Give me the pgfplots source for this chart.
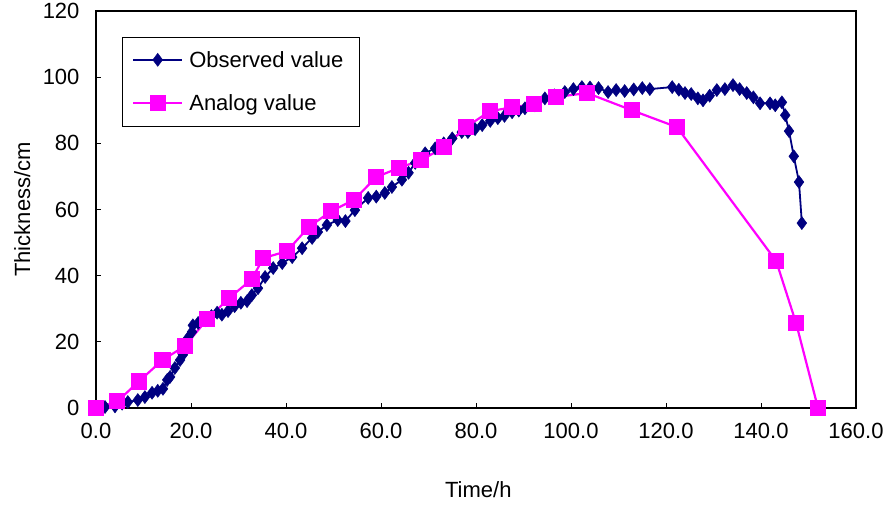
\documentclass[border=0pt]{standalone}
\usepackage{fontspec}
\setmainfont{Liberation Sans}
\usepackage{pgfplots}
\pgfplotsset{compat=1.18}
\definecolor{obsblue}{RGB}{0,0,128}
\definecolor{anapink}{RGB}{255,0,255}

\begin{document}
\begin{tikzpicture}
\useasboundingbox (-96pt,-96pt) rectangle (790pt,408pt);
\begin{axis}[
    scale only axis,
    width=760pt, height=397pt,
    xmin=0, xmax=160, ymin=0, ymax=120,
    xtick={0,20,...,160}, ytick={0,20,...,120},
    xtick pos=bottom, ytick pos=left,
    tick align=inside,
    major tick length=5pt,
    axis line style={line width=1.8pt},
    every tick/.style={black, line width=0.8pt},
    clip=false,
    /pgf/number format/assume math mode=true,
    tick label style={font=\fontsize{22}{26}\selectfont},
    xticklabel style={/pgf/number format/.cd, fixed, fixed zerofill, precision=1, /tikz/.cd, yshift=-12pt},
    yticklabel style={xshift=-13pt},
    xlabel={Time/h},
    ylabel={Thickness/cm},
    label style={font=\fontsize{22}{26}\selectfont},
    xlabel style={at={(axis description cs:0.503,-0.205)}, anchor=center},
    ylabel style={at={(axis description cs:-0.097,0.5)}, anchor=center},
    legend style={at={(axis description cs:0.034,0.935)}, anchor=north west,
        font=\fontsize{22}{26}\selectfont, draw=black, line width=0.6pt,
        inner xsep=10pt, inner ysep=12pt, row sep=22pt, cells={anchor=west},
        nodes={inner xsep=6pt}},
    legend image code/.code={\draw[mark repeat=2,mark phase=2,#1]
        plot coordinates {(0pt,0pt) (24.5pt,0pt) (49pt,0pt)};},
]
\addplot[obsblue, line width=1.8pt, mark=diamond*, mark size=6.5pt,
    mark options={solid, fill=obsblue, line width=0.5pt}] coordinates {
(0,0) (1.9,0.3) (4,0.5) (5.5,1.3) (6.7,1.8) (8.8,2.4) (10.3,3.3) (11.8,4.6)
(13,5.2) (14.1,5.8) (15,8.5) (15.6,9.4) (16.6,12.1) (17.7,14.5) (18.3,16.1)
(19.4,21.2) (20.2,23.0) (20.4,25.0) (21.5,25.7) (23.0,26.5) (24.3,27.8)
(25.5,28.8) (26.5,28.2) (27.8,29.3) (29.2,30.8) (30.5,31.8) (31.8,32.3)
(32.8,34.1) (34.1,36.2) (35.6,39.6) (37.3,42.3) (39.2,43.8) (41.3,45.6)
(43.4,48.3) (45.5,51.4) (46.7,53.2) (48.6,55.3) (50.9,56.8) (52.5,56.5)
(54.5,59.8) (57.3,63.5) (59.0,63.9) (60.8,65.0) (62.3,66.8) (64.4,69.0)
(65.8,71.1) (67.2,74.1) (69.3,77.0) (71.4,78.5) (73.2,80.0) (75.0,81.5)
(77.0,83.4) (78.3,83.4) (79.8,84.3) (81.3,85.5) (83.0,86.8) (84.6,87.6)
(86.0,88.3) (87.6,89.4) (89.0,89.9) (90.3,90.6) (92.4,91.5) (94.5,93.6)
(96.5,94.5) (98.7,95.5) (100.5,96.4) (102.3,97.0) (104.0,96.9) (105.8,96.7)
(107.8,95.5) (109.5,96.1) (111.3,95.8) (113.2,96.3) (115.0,96.7) (116.6,96.4)
(121.3,97.0) (122.7,96.2) (124.0,95.2) (125.3,94.9) (126.7,93.6) (127.8,93.0)
(129.2,94.4) (130.7,96.1) (132.4,96.4) (134.1,97.6) (135.5,96.4) (137.0,95.2)
(138.4,93.9) (139.8,92.1) (141.9,92.1) (143.0,91.5) (144.4,92.4) (145.1,88.5)
(145.9,83.7) (146.9,76.1) (148.0,68.3) (148.6,55.9)
};
\addlegendentry{Observed value}
\addplot[anapink, line width=2.2pt, mark=square*, mark size=7pt,
    mark options={solid, fill=anapink}] coordinates {
(0,0) (4.5,2) (9,8) (14,14.5) (18.7,18.7) (23.4,26.8) (28,33.2) (32.8,38.9)
(35.2,45.3) (40.2,47.4) (44.8,54.7) (49.5,59.5) (54.3,62.9) (59,69.8)
(63.8,72.6) (68.4,74.9) (73.3,78.8) (77.9,84.9) (82.9,89.7) (87.6,90.9)
(92.2,91.8) (96.8,94) (103.4,95.2) (112.8,90) (122.3,84.9) (143.2,44.4)
(147.4,25.6) (152,0)
};
\addlegendentry{Analog value}
\end{axis}
\end{tikzpicture}
\end{document}
